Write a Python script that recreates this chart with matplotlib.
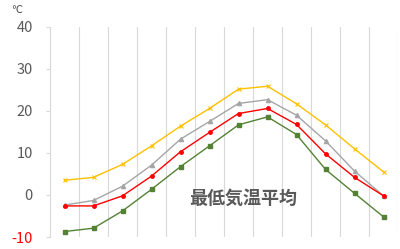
import numpy as np
import matplotlib.pyplot as plt

plt.rcParams['font.family'] = ['Noto Sans CJK JP', 'DejaVu Sans']

months = list(range(1, 13))
yellow_vals = [3.5, 4.2, 7.3, 11.7, 16.4, 20.6, 25.2, 25.9, 21.7, 16.7, 11.0, 5.5]
gray_vals = [-2.4, -1.3, 2.1, 7.1, 13.3, 17.5, 21.8, 22.7, 19.0, 12.9, 5.7, -0.2]
red_vals = [-2.6, -2.6, -0.2, 4.5, 10.3, 14.9, 19.4, 20.6, 16.8, 9.8, 4.2, -0.2]
green_vals = [-8.7, -7.9, -3.8, 1.35, 6.75, 11.7, 16.7, 18.6, 14.4, 6.1, 0.4, -5.2]
yticks = [-10, 0, 10, 20, 30, 40]

fig = plt.figure(figsize=(4.0, 2.49), dpi=100)
ax = fig.add_axes([50 / 400, 12 / 249, 348 / 400, 210 / 249])

x = np.arange(len(months))
ax.plot(x, yellow_vals, color='#FFC000', lw=1.0, marker='x', ms=2.8, mew=0.8)
ax.plot(x, gray_vals, color='#A5A5A5', lw=1.0, marker='^', ms=3)
ax.plot(x, red_vals, color='#FF0000', lw=1.0, marker='o', ms=2.5)
ax.plot(x, green_vals, color='#548235', lw=1.0, marker='s', ms=3)

ax.set_xlim(-0.5, len(months) - 0.5)
ax.set_ylim(-10, 40)
ax.set_xticks([])
ax.set_xticks(np.arange(-0.5, len(months), 1.0), minor=True)
ax.tick_params(axis='x', which='both', length=0)
ax.grid(True, axis='x', which='minor', color='#D9D9D9', lw=0.8)

ax.set_yticks(yticks)
ax.set_yticklabels([str(v) for v in yticks], fontsize=10.5, color='#595959')
for lbl, v in zip(ax.get_yticklabels(), yticks):
    if v < 0:
        lbl.set_color('#FF0000')
ax.tick_params(axis='y', length=3, color='#D9D9D9', pad=9.5)

for s in ['top', 'right', 'bottom']:
    ax.spines[s].set_visible(False)
ax.spines['left'].set_color('#D9D9D9')

# unit label and chart title
fig.text(17 / 400, 1 - 10 / 249, '℃', fontsize=7, color='#404040',
         ha='center', va='center', family=['DejaVu Sans'])
ax.text(0.555, 0.186, '最低気温平均', transform=ax.transAxes, fontsize=13,
        fontweight='bold', color='#595959', ha='center', va='center')

fig.savefig('out.png', dpi=100)
